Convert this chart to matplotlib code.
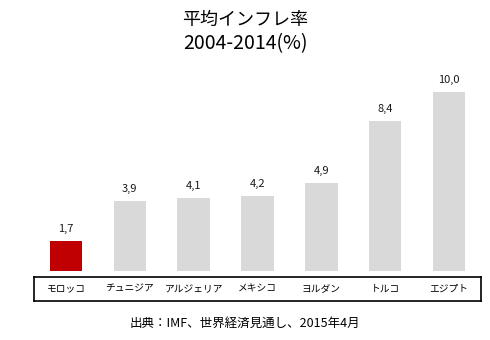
import matplotlib.pyplot as plt

plt.rcParams['font.family'] = ['Noto Sans CJK JP', 'DejaVu Sans']

countries = ["モロッコ", "チュニジア", "アルジェリア", "メキシコ", "ヨルダン", "トルコ", "エジプト"]
inflation = [1.7, 3.9, 4.1, 4.2, 4.9, 8.4, 10.0]
bar_colors = ["#C00000"] + ["#D9D9D9"] * 6

W, H = 490, 340
fig = plt.figure(figsize=(W / 100, H / 100), dpi=100)

# bars
ax = fig.add_axes([34 / W, 1 - 271 / H, 447 / W, 211 / H])
x = range(len(countries))
ax.bar(x, inflation, width=0.51, color=bar_colors)
for i, v in enumerate(inflation):
    ax.annotate(f"{v:.1f}".replace(".", ","), (i, v), xytext=(0, 5),
                textcoords="offset points", ha="center", va="bottom",
                fontsize=8, color="#1a1a1a")
ax.set_xlim(-0.5, len(countries) - 0.5)
ax.set_ylim(0, 211 / 17.9)
ax.axis("off")

# category box under the bars
lab = fig.add_axes([34 / W, 1 - 301 / H, 447 / W, 24 / H])
lab.set_xlim(-0.5, len(countries) - 0.5)
lab.set_ylim(0, 1)
lab.set_xticks([])
lab.set_yticks([])
for s in lab.spines.values():
    s.set_linewidth(1.2)
    s.set_color("black")
for i, name in enumerate(countries):
    lab.text(i, 0.5, name, ha="center", va="center", fontsize=7)

fig.text(0.5, 1 - 20 / H, "平均インフレ率", ha="center", va="center", fontsize=13)
fig.text(0.5, 1 - 44 / H, "2004-2014(%)", ha="center", va="center", fontsize=14)
fig.text(0.5, 1 - 323 / H, "出典：IMF、世界経済見通し、2015年4月", ha="center",
         va="center", fontsize=9)

fig.savefig("out.png", dpi=100)
